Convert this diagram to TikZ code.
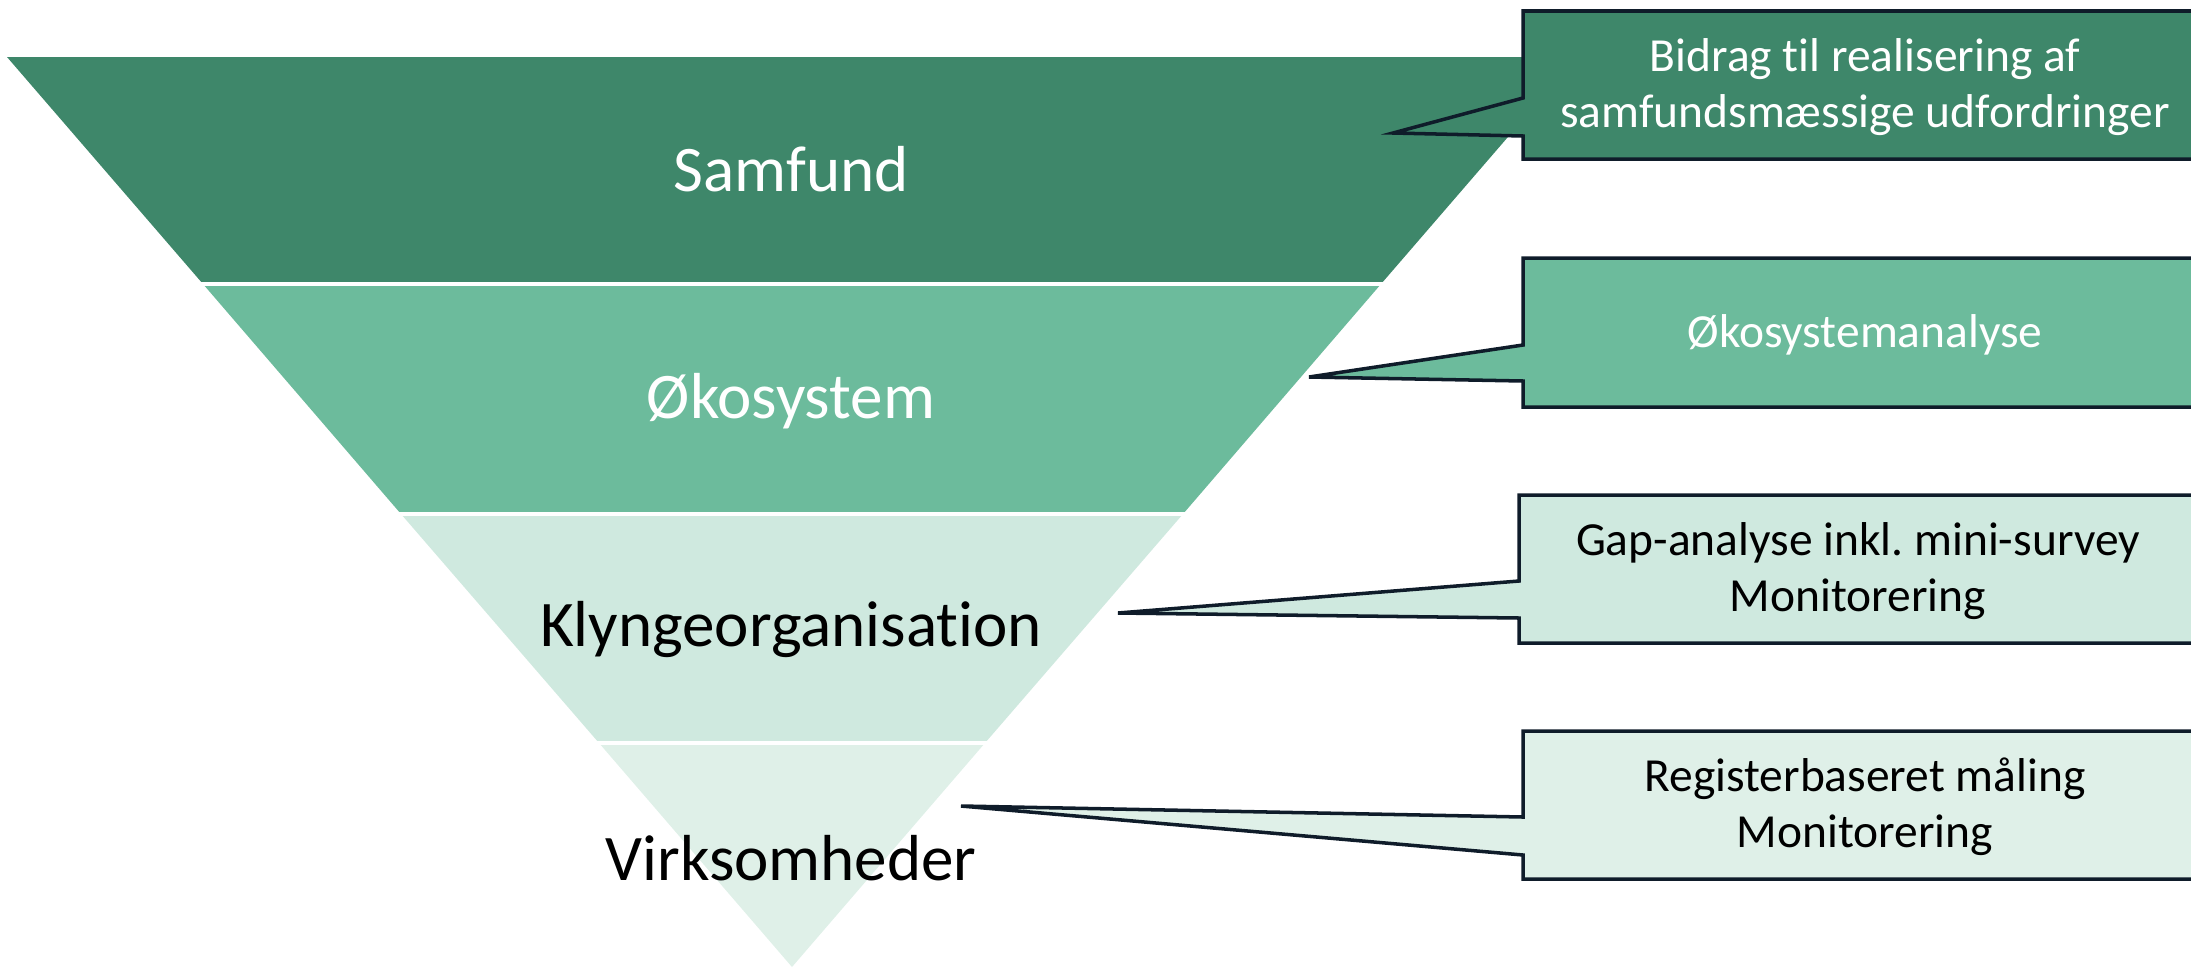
\documentclass[tikz,border=0pt]{standalone}
\usepackage{fontspec}
\setmainfont{Carlito}[Ligatures=NoCommon]
\frenchspacing
\definecolor{samfund}{HTML}{3E876A}
\definecolor{oekosys}{HTML}{6CBB9C}
\definecolor{klynge}{HTML}{CFE9DF}
\definecolor{virksom}{HTML}{DFF0E8}
\definecolor{calloutline}{HTML}{0F1C2A}
\begin{document}
\begin{tikzpicture}[x=0.01cm,y=-0.01cm,
  sep/.style={white,line width=1pt},
  wedge/.style={draw=calloutline,line width=1pt,line join=miter},
  lvl/.style={font=\fontsize{18.5}{22}\selectfont},
  note/.style={font=\fontsize{13.5}{16}\selectfont,align=center},
]
  \useasboundingbox (0,0) rectangle (2191,969);
  \clip (0,0) rectangle (2191,969);

  % the funnel
  \fill[samfund] (7,57) -- (1577,57) -- (1381,284) -- (203,284) -- cycle;
  \fill[oekosys] (203,284) -- (1381,284) -- (1183,514) -- (401,514) -- cycle;
  \fill[klynge] (401,514) -- (1183,514) -- (985,743) -- (599,743) -- cycle;
  \fill[virksom] (599,743) -- (985,743) -- (792,967) -- cycle;
  \draw[sep] (200,284) -- (1384,284);
  \draw[sep] (398,514) -- (1186,514);
  \draw[sep] (596,743) -- (988,743);

  \node[lvl,white] (samfundlbl) at (791,169) {Samfund};
  \node[lvl,white] (oekolbl) at (791,401) {Økosystem};
  \node[lvl] (klyngelbl) at (791,629) {Klyngeorganisation};
  \node[lvl] (virklbl) at (791,858) {Virksomheder};

  % callouts
  \coordinate (tipA) at (1393,133);
  \coordinate (tipB) at (1309,377);
  \coordinate (tipC) at (1118,613);
  \coordinate (tipD) at (961,806);

  \draw[wedge,fill=samfund] (1523,11) -- (2210,11) -- (2210,159) -- (1523,159)
    -- (1523,136) -- (tipA) -- (1523,98) -- cycle;
  \draw[wedge,fill=oekosys] (1523,258) -- (2210,258) -- (2210,407) -- (1523,407)
    -- (1523,381) -- (tipB) -- (1523,345) -- cycle;
  \draw[wedge,fill=klynge] (1519,495) -- (2210,495) -- (2210,643) -- (1519,643)
    -- (1519,618) -- (tipC) -- (1519,581) -- cycle;
  \draw[wedge,fill=virksom] (1523,731) -- (2210,731) -- (2210,879) -- (1523,879)
    -- (1523,855) -- (tipD) -- (1523,817) -- cycle;

  \node[note,white] (bidrag) at (1865,87) {Bidrag til realisering af\\samfundsmæssige udfordringer};
  \node[note,white] (oekoanalyse) at (1865,335) {Økosystemanalyse};
  \node[note] (gap) at (1858,571) {Gap-analyse inkl. mini-survey\\Monitorering};
  \node[note] (register) at (1865,807) {Registerbaseret måling\\Monitorering};
\end{tikzpicture}
\end{document}
